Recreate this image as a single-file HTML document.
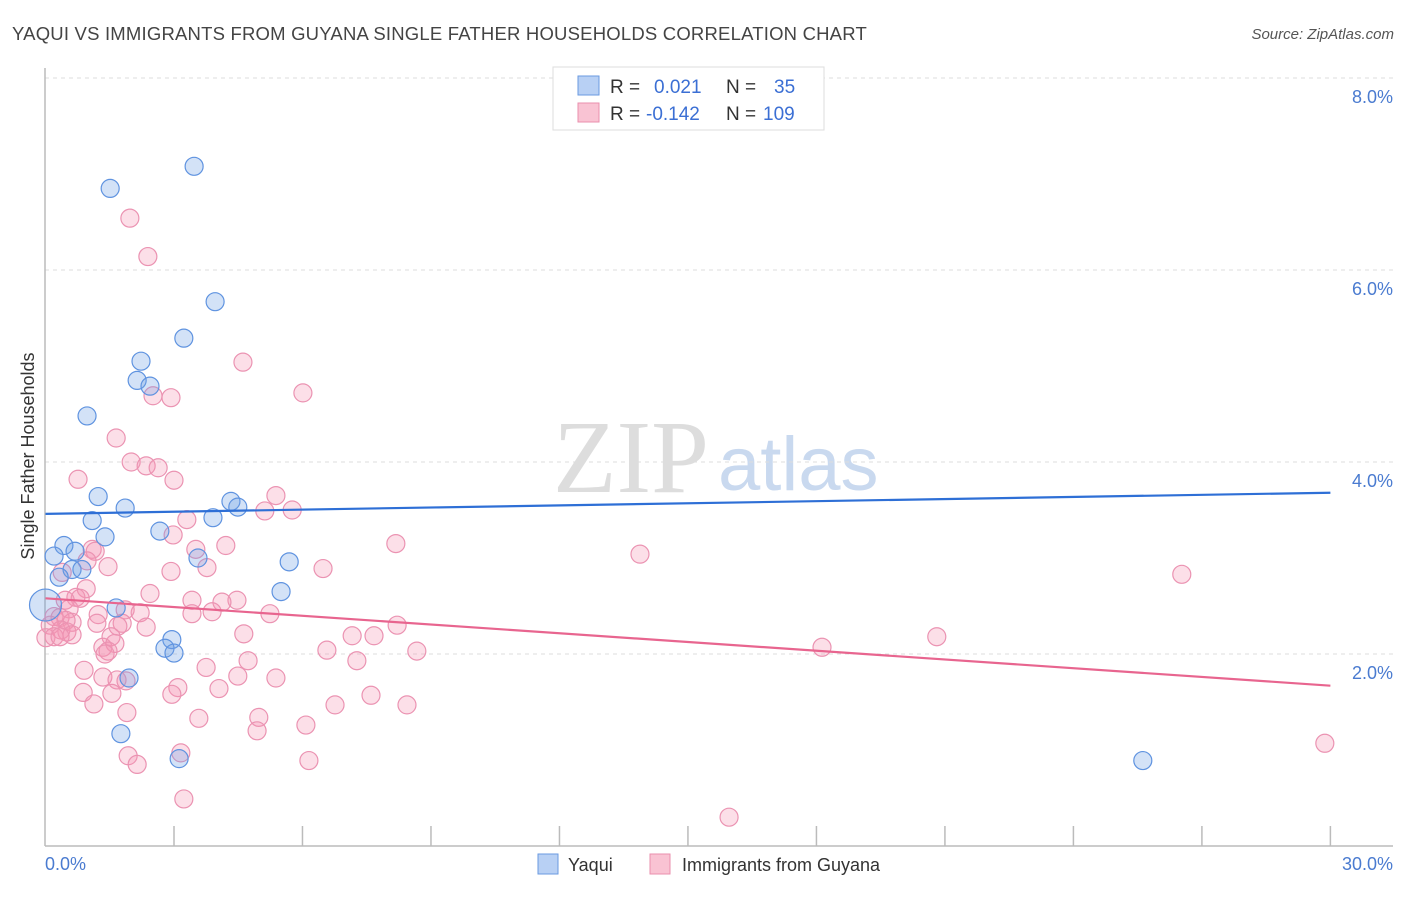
<!DOCTYPE html>
<html><head><meta charset="utf-8"><style>
body{margin:0;background:#fff;font-family:"Liberation Sans",sans-serif}
svg text{font-family:"Liberation Sans",sans-serif}
</style></head><body>
<svg id="c" width="1406" height="892">
<text x="12" y="40" font-size="18.5" fill="#444" letter-spacing="0.2">YAQUI VS IMMIGRANTS FROM GUYANA SINGLE FATHER HOUSEHOLDS CORRELATION CHART</text>
<text x="1394" y="39" font-size="15" fill="#555" text-anchor="end" font-style="italic">Source: ZipAtlas.com</text>
<text x="553" y="492" font-size="104" fill="#ddd" style="font-family:'Liberation Serif',serif">ZIP</text>
<text x="718" y="490" font-size="76" fill="#c9d9ef">atlas</text>
<g id="grid"></g><g id="axes"></g><g id="pts"></g><g id="trend"></g>
<text transform="translate(34,456) rotate(-90)" font-size="18" fill="#333" text-anchor="middle">Single Father Households</text>
<text x="45" y="870" font-size="18" fill="#4a7bd0">0.0%</text>
<text x="1393" y="870" font-size="18" fill="#4a7bd0" text-anchor="end">30.0%</text>
<g>
<rect x="553" y="67" width="271" height="63" fill="#fff" stroke="#ddd"/>
<rect x="578" y="76" width="21" height="19" fill="#b8d0f4" stroke="#6a9ae0"/>
<rect x="578" y="103" width="21" height="19" fill="#f9c3d3" stroke="#ea8fae"/>
<text x="610" y="93" font-size="19" fill="#333">R = </text><text x="654" y="93" font-size="19" fill="#3b6fd4">0.021</text>
<text x="726" y="93" font-size="19" fill="#333">N = </text><text x="774" y="93" font-size="19" fill="#3b6fd4">35</text>
<text x="610" y="120" font-size="19" fill="#333">R = </text><text x="646" y="120" font-size="19" fill="#3b6fd4">-0.142</text>
<text x="726" y="120" font-size="19" fill="#333">N = </text><text x="763" y="120" font-size="19" fill="#3b6fd4">109</text>
</g>
<g><rect x="538" y="854" width="20" height="20" fill="#b8d0f4" stroke="#6a9ae0"/><text x="568" y="871" font-size="18" fill="#333">Yaqui</text></g>
<g><rect x="650" y="854" width="20" height="20" fill="#f9c3d3" stroke="#ea8fae"/><text x="682" y="871" font-size="18" fill="#333">Immigrants from Guyana</text></g>
</svg>
<script>
const yTicks=[2,4,6,8];
const yTickLabels=["2.0%","4.0%","6.0%","8.0%"];
const xTicks=[3,6,9,12,15,18,21,24,27,30];
const yaquiX=[1.51,3.47,3.96,3.23,2.23,2.14,2.44,0.97,1.23,1.86,4.33,4.49,3.91,1.09,2.67,1.39,0.43,0.69,0.20,0.62,0.85,0.32,5.69,3.56,5.50,1.65,0.0,2.95,2.79,3.00,1.95,1.76,3.12,25.62,15.65];
const yaquiY=[6.85,7.08,5.67,5.29,5.05,4.85,4.79,4.48,3.64,3.52,3.59,3.53,3.42,3.39,3.28,3.22,3.13,3.07,3.02,2.88,2.88,2.80,2.96,3.00,2.65,2.48,2.51,2.15,2.06,2.01,1.75,1.17,0.91,0.89,7.96];
const guyX=[1.97,2.39,4.61,6.01,2.51,2.93,1.65,2.00,2.35,2.63,0.76,3.00,5.38,5.12,5.76,3.30,1.09,1.16,2.98,3.51,4.21,8.18,13.88,26.53,0.97,1.46,3.77,6.48,2.93,0.39,0.95,0.71,0.81,2.44,3.42,4.47,0.46,0.55,1.86,4.12,0.34,0.20,0.62,1.23,3.89,3.42,5.24,2.21,0.48,1.79,2.35,1.20,1.69,0.36,0.50,0.62,0.11,0.01,0.20,0.34,1.53,4.63,7.16,7.67,8.21,20.81,18.13,1.34,1.62,1.46,6.57,8.67,1.39,4.73,7.27,3.75,0.90,1.34,4.49,5.38,1.67,1.88,4.05,3.09,2.95,0.88,1.55,7.60,6.76,8.44,1.13,1.90,3.58,4.98,4.94,6.08,3.16,1.93,2.14,6.15,3.23,15.96,29.87];
const guyY=[6.54,6.14,5.04,4.72,4.69,4.67,4.25,4.00,3.96,3.94,3.82,3.81,3.65,3.49,3.50,3.40,3.09,3.07,3.24,3.09,3.13,3.15,3.04,2.83,2.97,2.91,2.90,2.89,2.86,2.85,2.68,2.59,2.58,2.63,2.56,2.56,2.56,2.47,2.46,2.54,2.38,2.39,2.33,2.41,2.44,2.42,2.42,2.43,2.35,2.32,2.28,2.32,2.29,2.25,2.23,2.20,2.30,2.17,2.18,2.18,2.18,2.21,2.19,2.19,2.30,2.18,2.07,2.07,2.11,2.03,2.04,2.03,2.00,1.93,1.93,1.86,1.83,1.76,1.77,1.75,1.73,1.72,1.64,1.65,1.58,1.60,1.59,1.57,1.47,1.47,1.48,1.39,1.33,1.34,1.20,1.26,0.97,0.94,0.85,0.89,0.49,0.30,1.07];
const trendX=[0,30];
const yaquiTrend=[3.46,3.68];
const guyTrend=[2.58,1.67];
const NS="http://www.w3.org/2000/svg";
const sx=v=>45.5+v*42.83, sy=v=>846-v*96;
function mk(tag,attrs,parent){const e=document.createElementNS(NS,tag);for(const k in attrs)e.setAttribute(k,attrs[k]);parent.appendChild(e);return e;}
const grid=document.getElementById('grid'),axes=document.getElementById('axes'),pts=document.getElementById('pts'),tr=document.getElementById('trend');
yTicks.forEach((t,i)=>{
 const l=mk('line',{x1:45,x2:1393,y1:sy(t),y2:sy(t),stroke:'#ddd','stroke-dasharray':'4,4'},grid);
 
 
 const tx=mk('text',{x:1393,y:sy(t)+25,'font-size':18,fill:'#4a7bd0','text-anchor':'end'},grid);
 tx.textContent=yTickLabels[i];
 
 
});
const yl=mk('line',{x1:45,x2:45,y1:68,y2:846,stroke:'#bbb','stroke-width':1.5},axes);


const xl=mk('line',{x1:45,x2:1393,y1:846,y2:846,stroke:'#bbb','stroke-width':1.5},axes);


xTicks.forEach(t=>{
 const l=mk('line',{x1:sx(t),x2:sx(t),y1:826,y2:846,stroke:'#bbb','stroke-width':1.5},axes);
 
 
});
guyX.forEach((x,i)=>{
 const c=mk('circle',{cx:sx(x),cy:sy(guyY[i]),r:9,fill:'rgba(244,150,180,0.3)',stroke:'#eb93b2','stroke-width':1.2},pts);
 
 
});
yaquiX.forEach((x,i)=>{
 const c=mk('circle',{cx:sx(x),cy:sy(yaquiY[i]),r:i==26?16:9,fill:'rgba(110,160,230,0.3)',stroke:'#5f93e0','stroke-width':1.2},pts);
 
 
});
const t1=mk('line',{x1:sx(trendX[0]),x2:sx(trendX[1]),y1:sy(yaquiTrend[0]),y2:sy(yaquiTrend[1]),stroke:'#2e6fd6','stroke-width':2.2},tr);


const t2=mk('line',{x1:sx(trendX[0]),x2:sx(trendX[1]),y1:sy(guyTrend[0]),y2:sy(guyTrend[1]),stroke:'#e8658f','stroke-width':2.2},tr);


</script>
</body></html>
